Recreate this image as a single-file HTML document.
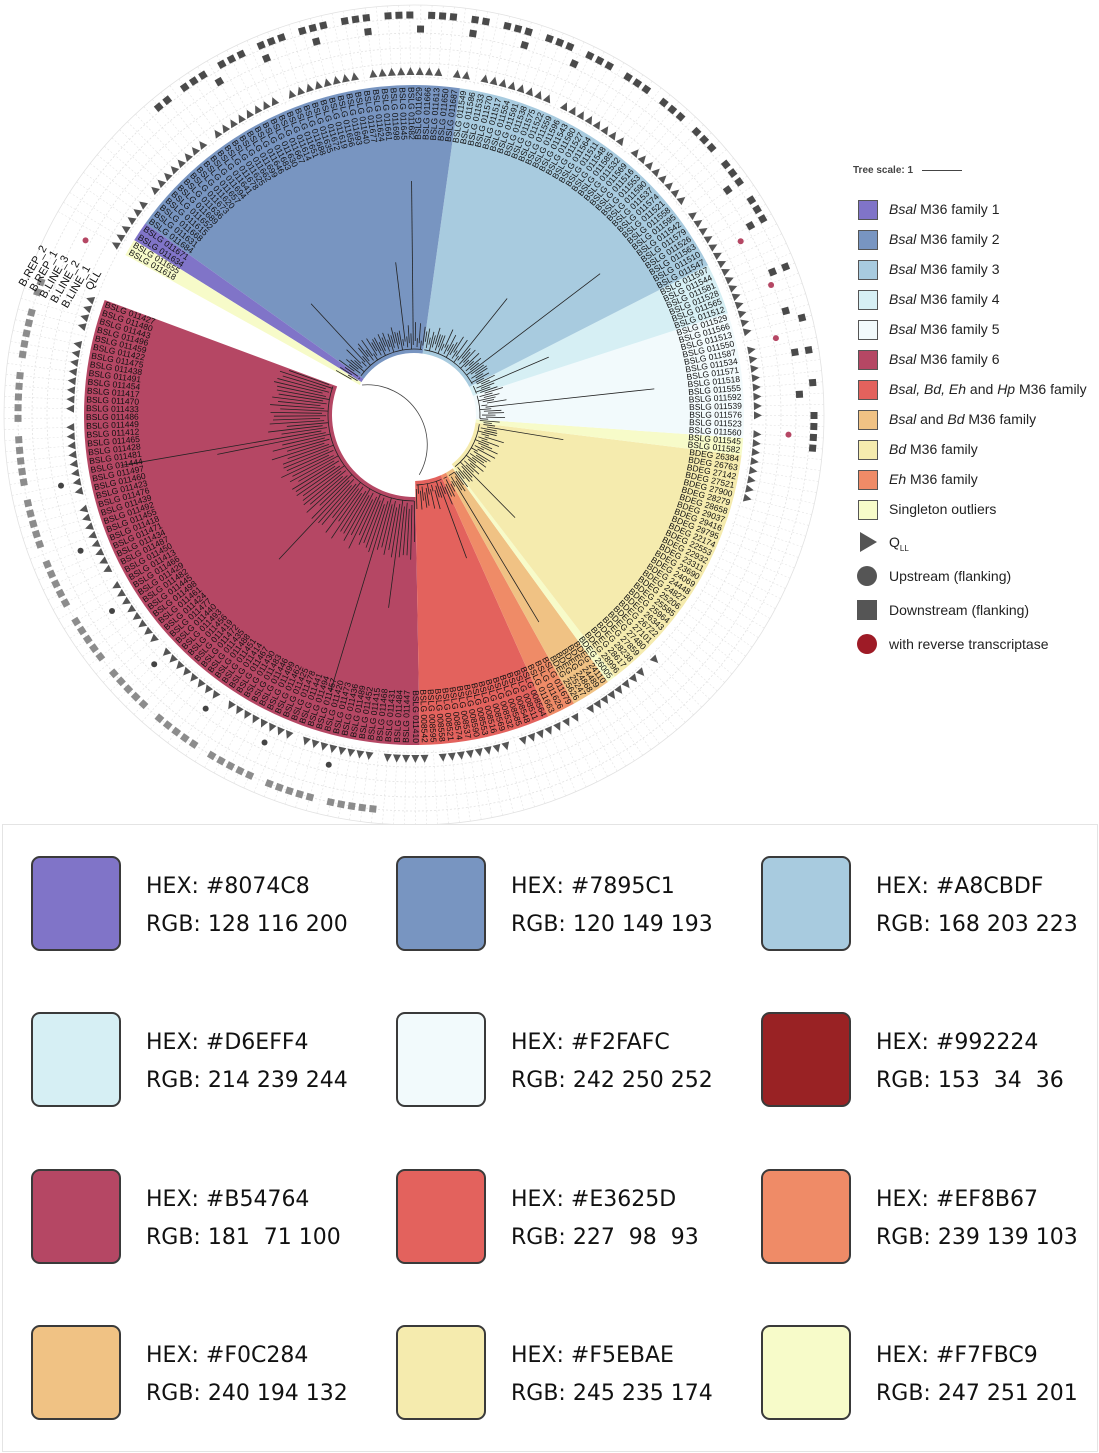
<!DOCTYPE html>
<html><head><meta charset="utf-8">
<style>
body{margin:0;background:#fff;width:1099px;height:1453px;overflow:hidden;font-family:"Liberation Sans",sans-serif;}
#tree{position:absolute;left:0;top:0}
.legend{position:absolute;left:853px;top:162px;font-size:14px;color:#222}
.li{position:absolute;left:0;height:20px;white-space:nowrap}
.li .bx{position:absolute;left:5px;top:0;width:18px;height:18px;border:1px solid #555}
.li .tx{position:absolute;left:36px;top:1px}
#panel{position:absolute;left:2px;top:824px;width:1094px;height:626px;border:1px solid #e4e4e4;background:#fff}
.sw{position:absolute;width:86px;height:91px;border:2px solid #3a3a3a;border-radius:9px}
.st{position:absolute;font-family:"DejaVu Sans",sans-serif;font-size:22px;color:#111;line-height:38px;white-space:pre}
</style></head><body>
<svg id="tree" width="840" height="825" viewBox="0 0 840 825"></svg>

<div class="legend">
 <div style="position:absolute;left:0;top:3px;font-size:10px;font-weight:bold;color:#444;white-space:nowrap">Tree scale: 1 <span style="display:inline-block;width:40px;border-top:1px solid #444;margin-left:6px;vertical-align:middle"></span></div>
 <div id="legitems"></div>
</div>

<div id="panel"></div>

<script>
const NS="http://www.w3.org/2000/svg";
const cx=414, cy=415;
const famNames=["Family 6","Red M36","Orange M36","Bsal+Bd","Singleton b","Bd M36","Singleton c","Family 5","Family 4","Family 3","Family 2","Family 1","Singleton a"];
const famStart=[89,66,61,54,52.5,7,4,-18,-27,-82,-144.5,-148,-151];
const famEnd=[200.4,89,66,61,54,52.5,7,4,-18,-27,-82,-144.5,-148];
const famColor=["#B54764","#E3625D","#EF8B67","#F0C284","#F7FBC9","#F5EBAE","#F7FBC9","#F2FAFC","#D6EFF4","#A8CBDF","#7895C1","#8074C8","#F7FBC9"];
const famInner=[82,66,66,66,66,62,62,62,62,62,62,62,62];
const famPrefix=["BSLG 0114","BSLG 0085","BSLG 0116","BDEG 2","BDEG 2","BDEG 2","BSLG 0115","BSLG 0115","BSLG 0115","BSLG 0115","BSLG 0116","BSLG 0116","BSLG 0116"];

const legLabels=[["<i>Bsal</i> M36 family 1","#8074C8"],["<i>Bsal</i> M36 family 2","#7895C1"],["<i>Bsal</i> M36 family 3","#A8CBDF"],["<i>Bsal</i> M36 family 4","#D6EFF4"],["<i>Bsal</i> M36 family 5","#F2FAFC"],["<i>Bsal</i> M36 family 6","#B54764"],["<i>Bsal, Bd, Eh</i> and <i>Hp</i> M36 family","#E3625D"],["<i>Bsal</i> and <i>Bd</i> M36 family","#F0C284"],["<i>Bd</i> M36 family","#F5EBAE"],["<i>Eh</i> M36 family","#EF8B67"],["Singleton outliers","#F7FBC9"]];

const swHex=["#8074C8","#7895C1","#A8CBDF","#D6EFF4","#F2FAFC","#992224","#B54764","#E3625D","#EF8B67","#F0C284","#F5EBAE","#F7FBC9"];
const swRgb=["128 116 200","120 149 193","168 203 223","214 239 244","242 250 252","153  34  36","181  71 100","227  98  93","239 139 103","240 194 132","245 235 174","247 251 201"];

const svg=document.getElementById('tree');
function P(r,a){const t=a*Math.PI/180;return [cx+r*Math.cos(t),cy+r*Math.sin(t)];}
function mk(tag,attrs,parent){const e=document.createElementNS(NS,tag);for(const k in attrs)e.setAttribute(k,attrs[k]);(parent||svg).appendChild(e);return e;}
function annulus(r0,r1,a0,a1){const [x1,y1]=P(r1,a0),[x2,y2]=P(r1,a1),[x3,y3]=P(r0,a1),[x4,y4]=P(r0,a0);const lg=(a1-a0)>180?1:0;
 return `M${x1},${y1}A${r1},${r1} 0 ${lg} 1 ${x2},${y2}L${x3},${y3}A${r0},${r0} 0 ${lg} 0 ${x4},${y4}Z`;}

[338,352,367,382,396,410].forEach((r,i)=>{const c=mk('circle',{cx,cy,r,fill:'none',stroke:'#e2e2e2','stroke-dasharray':i==5?'':'2,2','stroke-width':0.8});

});

famStart.forEach((s,i)=>{const p=mk('path',{d:annulus(famInner[i],330,s,famEnd[i]),fill:famColor[i]});

});

const leaves=[];
famStart.forEach((s,i)=>{const span=famEnd[i]-s;const n=Math.max(1,Math.round(span/1.55));for(let k=0;k<n;k++){leaves.push({a:s+span*(k+0.5)/n,f:i,k});}});
const gT=mk('g',{});
const gL=mk('g',{'font-size':'8.5','font-family':'Liberation Sans, sans-serif',fill:'#111'});

const gA=mk('g',{});
leaves.forEach((lf,j)=>{
 const a=lf.a; const aa=((a%360)+360)%360;
 const [g1x,g1y]=P(336,a),[g2x,g2y]=P(410,a);
 mk('line',{x1:g1x,y1:g1y,x2:g2x,y2:g2y,stroke:'#e4e4e4','stroke-dasharray':'2,2','stroke-width':0.6},gA);
 const ri=famInner[lf.f]+4+((j*7)%5)*2;
 let tip=ri+6+Math.abs(Math.sin(j*1.37))*14+(lf.f==0?35:0);
 if(j%23==5) tip+=60;
 if(j%41==11) tip+=150;
 const [b1x,b1y]=P(ri,a),[b2x,b2y]=P(tip,a);
 mk('line',{x1:b1x,y1:b1y,x2:b2x,y2:b2y,stroke:'#222','stroke-width':0.8},gT);
 const [lx,ly]=P(328,a);
 const left=aa>90&&aa<270;
 const t=mk('text',{x:lx,y:ly,'dominant-baseline':'middle','text-anchor':left?'start':'end',transform:`rotate(${left?a+180:a} ${lx} ${ly})`},gL);
 const pre=famPrefix[lf.f];
 t.textContent=pre.startsWith('BDEG')?pre+String(2000+((j*379)%8000)).padStart(4,'0'):pre+String(10+((j*37)%90)).padStart(2,'0');
 const triOn=!(aa>15&&aa<45)&&((j%9)!=4);
 if(triOn){const [tx,ty]=P(344,a);mk('polygon',{points:'-4,-4 4,0 -4,4',fill:'#555',transform:`translate(${tx} ${ty}) rotate(${a})`},gA);}
 const dn=(aa>230&&aa<335&&(j%4)!=1)||(aa>335&&aa<360&&(j%3)==0)||(aa>=0&&aa<5);
 if(dn){const [sx,sy]=P(400,a);mk('rect',{x:-3.5,y:-3.5,width:7,height:7,fill:'#4a4a4a',transform:`translate(${sx} ${sy}) rotate(${a})`},gA);}
 const dn2=(aa>235&&aa<300&&(j%5)==2)||(aa>320&&aa<360&&(j%4)==0);
 if(dn2){const [sx,sy]=P(386,a);mk('rect',{x:-3.5,y:-3.5,width:7,height:7,fill:'#4a4a4a',transform:`translate(${sx} ${sy}) rotate(${a})`},gA);}
 const gs=(aa>95&&aa<200&&(j%6)!=3);
 if(gs){const [sx,sy]=P(396,a);mk('rect',{x:-3.5,y:-3.5,width:7,height:7,fill:'#8c8c8c',transform:`translate(${sx} ${sy}) rotate(${a})`},gA);}
 const up=(aa>100&&aa<175&&(j%7)==2);
 if(up){const [ux,uy]=P(360,a);mk('circle',{cx:ux,cy:uy,r:3,fill:'#444'},gA);}
});
for(let f=0;f<famStart.length;f++){const r=famInner[f]+4;if(famEnd[f]-famStart[f]>3)mk('path',{d:`M${P(r,famStart[f]+1)}A${r},${r} 0 0 1 ${P(r,famEnd[f]-1)}`,fill:'none',stroke:'#222','stroke-width':0.8},gT);}
mk('path',{d:`M${P(60,-150)}A60,60 0 0 1 ${P(60,85)}`,fill:'none',stroke:'#444','stroke-width':0.8},gT);
[[-28,370],[-20,380],[-12,370],[3,375],[-152,372]].forEach(d=>{const [x,y]=P(d[1],d[0]);mk('circle',{cx:x,cy:y,r:3,fill:'#B54764'},gA);});
const hdr=["QLL","B.LINE_1","B.LINE_2","B.LINE_3","B.REP_1","B.REP_2"];
hdr.forEach((h,i)=>{const [x,y]=P(346+i*12,-155.5);const t=mk('text',{x,y,'font-size':'11','text-anchor':'end','dominant-baseline':'middle',fill:'#111',transform:`rotate(-60 ${x} ${y})`});


t.textContent=h;});

const li=document.getElementById('legitems');
legLabels.forEach((l,i)=>{const d=document.createElement('div');d.className='li';d.style.top=(38+i*30)+'px';


d.innerHTML=`<span class="bx" style="background:${l[1]}"></span><span class="tx">${l[0]}</span>`;li.appendChild(d);});
const extras=[['<svg width="22" height="22"><polygon points="4,1 21,11 4,21" fill="#555"/></svg>','Q<sub style="font-size:8px">LL</sub>'],
['<svg width="22" height="22"><circle cx="11" cy="11" r="10" fill="#555"/></svg>','Upstream (flanking)'],
['<svg width="22" height="22"><rect x="1" y="1" width="20" height="20" fill="#555"/></svg>','Downstream (flanking)'],
['<svg width="22" height="22"><circle cx="11" cy="11" r="10" fill="#9e1b26"/></svg>','with reverse transcriptase']];
extras.forEach((e,i)=>{const d=document.createElement('div');d.className='li';d.style.top=(369+i*34)+'px';


d.innerHTML=`<span style="position:absolute;left:3px;top:0">${e[0]}</span><span class="tx" style="top:3px">${e[1]}</span>`;li.appendChild(d);});

const pan=document.getElementById('panel');
swHex.forEach((h,i)=>{const col=i%3,row=Math.floor(i/3);const x=28+col*365,y=31+row*156.3;
const s=document.createElement('div');s.className='sw';s.style.left=x+'px';s.style.top=y+'px';s.style.background=h;


pan.appendChild(s);
const t=document.createElement('div');t.className='st';t.style.left=(x+115)+'px';t.style.top=(y+12)+'px';


t.textContent='HEX: '+h+'\nRGB: '+swRgb[i];pan.appendChild(t);});
</script>
</body></html>
